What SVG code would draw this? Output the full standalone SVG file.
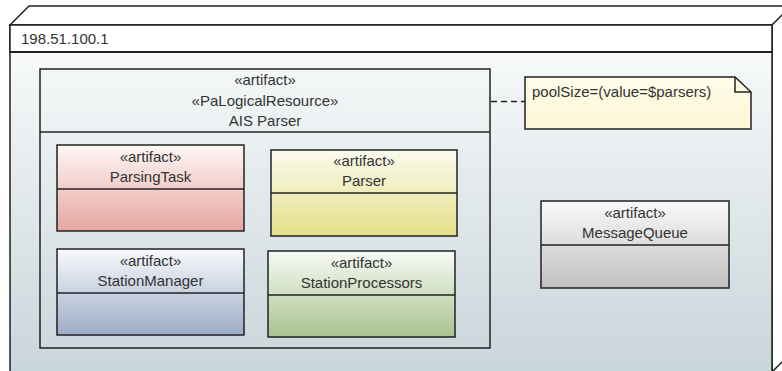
<svg xmlns="http://www.w3.org/2000/svg" width="782" height="371" viewBox="0 0 782 371">
<defs>
<linearGradient id="gNode" x1="0" y1="0" x2="0" y2="1"><stop offset="0" stop-color="#fbfcfc"/><stop offset="1" stop-color="#c8d5da"/></linearGradient>
<linearGradient id="gRed" x1="0" y1="0" x2="0" y2="1"><stop offset="0" stop-color="#fdf7f6"/><stop offset="1" stop-color="#e6a69f"/></linearGradient>
<linearGradient id="gYel" x1="0" y1="0" x2="0" y2="1"><stop offset="0" stop-color="#fbfbf0"/><stop offset="1" stop-color="#e4df88"/></linearGradient>
<linearGradient id="gBlue" x1="0" y1="0" x2="0" y2="1"><stop offset="0" stop-color="#f8f9fb"/><stop offset="1" stop-color="#9dacc7"/></linearGradient>
<linearGradient id="gGreen" x1="0" y1="0" x2="0" y2="1"><stop offset="0" stop-color="#f8faf5"/><stop offset="1" stop-color="#a8c390"/></linearGradient>
<linearGradient id="gGray" x1="0" y1="0" x2="0" y2="1"><stop offset="0" stop-color="#fafafa"/><stop offset="1" stop-color="#c0c0c0"/></linearGradient>
<linearGradient id="gNote" x1="0" y1="0" x2="0" y2="1"><stop offset="0" stop-color="#fffde9"/><stop offset="1" stop-color="#fcf5d6"/></linearGradient>
</defs>
<style>
text{font-family:"Liberation Sans",Arial,sans-serif;font-size:15px;fill:#333;}
.c{text-anchor:middle;}
.ln{stroke:#222;stroke-width:1.5;}
.box{stroke:#222;stroke-width:1.5;}
</style>
<g id="node">
<polygon points="10,25 29,6 801,6 772,25" fill="#ffffff" class="ln"/>
<polygon points="772,25 791,6 791,353 772,372" fill="#ffffff" class="ln"/>
<rect x="10" y="25" width="762" height="350" fill="url(#gNode)" class="box"/>
<rect x="10" y="25" width="762" height="27" fill="#ffffff" class="box"/>
<line x1="10" y1="52" x2="772" y2="52" stroke="#222" stroke-width="2"/>
<text x="21" y="44">198.51.100.1</text>
</g>
<g id="ais">
<rect x="40" y="69" width="450" height="279" fill="none" class="box"/>
<line x1="40" y1="132" x2="490" y2="132" class="ln"/>
<text class="c" x="265" y="85">«artifact»</text>
<text class="c" x="265" y="106">«PaLogicalResource»</text>
<text class="c" x="265" y="126">AIS Parser</text>
</g>
<g id="parsingtask">
<rect x="57" y="145" width="187" height="86" fill="url(#gRed)" class="box"/>
<line x1="57" y1="189" x2="244" y2="189" class="ln"/>
<text class="c" x="150.5" y="162">«artifact»</text>
<text class="c" x="150.5" y="182">ParsingTask</text>
</g>
<g id="parser">
<rect x="271" y="150" width="186" height="86" fill="url(#gYel)" class="box"/>
<line x1="271" y1="193" x2="457" y2="193" class="ln"/>
<text class="c" x="364" y="166">«artifact»</text>
<text class="c" x="364" y="186">Parser</text>
</g>
<g id="stationmanager">
<rect x="57" y="249" width="187" height="86" fill="url(#gBlue)" class="box"/>
<line x1="57" y1="293" x2="244" y2="293" class="ln"/>
<text class="c" x="150.5" y="266">«artifact»</text>
<text class="c" x="150.5" y="286">StationManager</text>
</g>
<g id="stationprocessors">
<rect x="268" y="251" width="187" height="86" fill="url(#gGreen)" class="box"/>
<line x1="268" y1="295" x2="455" y2="295" class="ln"/>
<text class="c" x="361.5" y="268">«artifact»</text>
<text class="c" x="361.5" y="288">StationProcessors</text>
</g>
<g id="messagequeue">
<rect x="541" y="201" width="188" height="87" fill="url(#gGray)" class="box"/>
<line x1="541" y1="245" x2="729" y2="245" class="ln"/>
<text class="c" x="635" y="218">«artifact»</text>
<text class="c" x="635" y="238">MessageQueue</text>
</g>
<g id="note">
<polygon points="525,77 735,77 751,92 751,129 525,129" fill="url(#gNote)" class="box"/>
<polyline points="735,77 735,92 751,92" fill="none" class="ln"/>
<text x="532" y="97">poolSize=(value=$parsers)</text>
</g>
<g id="connectors">
<line x1="491" y1="101.5" x2="525" y2="101.5" stroke="#222" stroke-width="1.5" stroke-dasharray="6,4"/>
</g>
</svg>
